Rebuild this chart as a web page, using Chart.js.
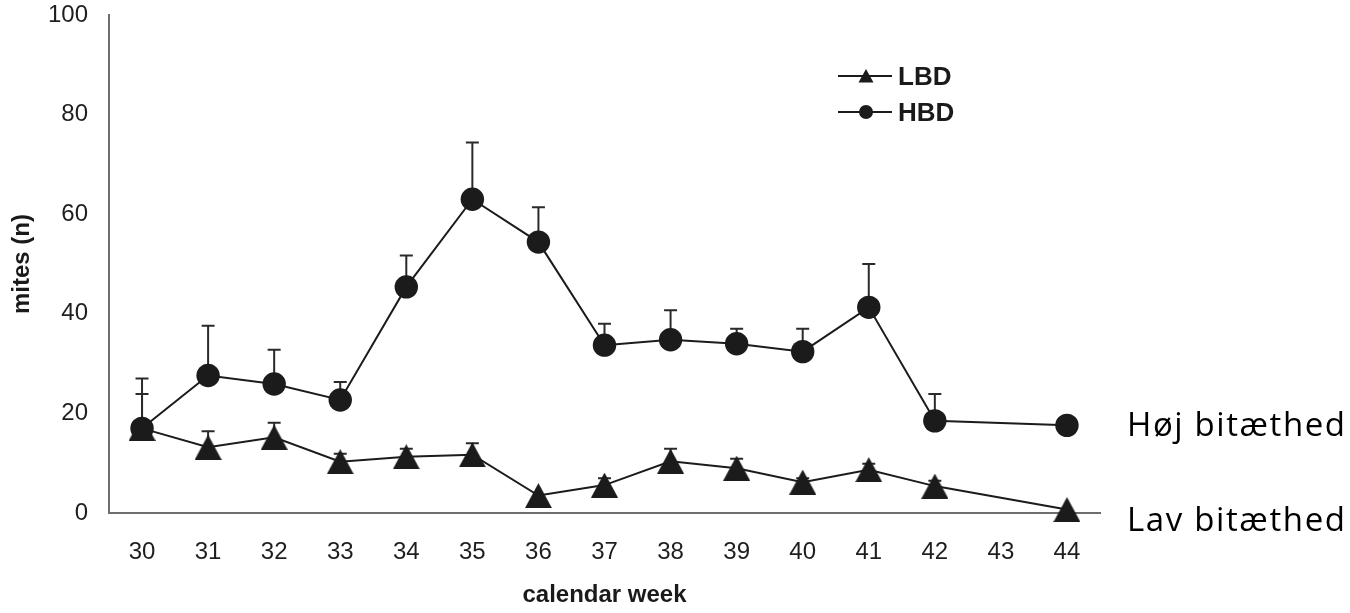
<!DOCTYPE html>
<html>
<head>
<meta charset="utf-8">
<script src="https://cdn.jsdelivr.net/npm/chart.js@4/dist/chart.umd.min.js"></script>
<style>
  html, body { margin: 0; padding: 0; background: #fff; }
  #wrap { width: 1350px; height: 613px; position: relative; }
</style>
</head>
<body>
<div id="wrap"><canvas id="c" width="1350" height="613"></canvas></div>
<script>
// ---- data ----
const weeks = ['30','31','32','33','34','35','36','37','38','39','40','41','42','43','44'];
const hbdMean = [17.0, 27.6, 25.9, 22.7, 45.4, 63.0, 54.4, 33.7, 34.8, 34.0, 32.4, 41.3, 18.5, null, 17.6];
const hbdErr  = [10.0, 10.0, 6.9, 3.6, 6.3, 11.4, 7.0, 4.3, 5.9, 3.0, 4.6, 8.7, 5.4, null, null];
const lbdMean = [17.0, 13.2, 15.2, 10.3, 11.3, 11.7, 3.5, 5.6, 10.4, 9.0, 6.2, 8.7, 5.4, null, 0.7];
const lbdErr  = [6.9, 3.2, 2.9, 1.6, 1.6, 2.3, null, 1.4, 2.5, 1.9, 0.8, 1.2, 1.1, null, null];
const yTicks = [0, 20, 40, 60, 80, 100];
const seriesNames = ['LBD', 'HBD'];
const sideLabels = ['Høj bitæthed', 'Lav bitæthed'];
const xTitle = 'calendar week';
const yTitle = 'mites (n)';

const INK = '#1b1b1b';

function triangleImage(w, h) {
  const cv = document.createElement('canvas');
  cv.width = w; cv.height = h;
  const g = cv.getContext('2d');
  g.fillStyle = INK;
  g.beginPath();
  g.moveTo(w / 2, 0);
  g.lineTo(w, h);
  g.lineTo(0, h);
  g.closePath();
  g.fill();
  return cv;
}
const triBig = triangleImage(27, 25);

const errorBars = {
  id: 'errorBars',
  beforeDatasetsDraw(chart) {
    const ctx = chart.ctx;
    const x = chart.scales.x, y = chart.scales.y;
    const sets = [[lbdMean, lbdErr], [hbdMean, hbdErr]];
    ctx.save();
    ctx.strokeStyle = '#2a2a2a';
    ctx.lineWidth = 2;
    sets.forEach(([m, e]) => {
      m.forEach((v, i) => {
        if (v == null || e[i] == null) return;
        const px = x.getPixelForValue(i);
        const y0 = y.getPixelForValue(v);
        const y1 = y.getPixelForValue(v + e[i]);
        ctx.beginPath();
        ctx.moveTo(px, y0);
        ctx.lineTo(px, y1);
        ctx.moveTo(px - 6.5, y1);
        ctx.lineTo(px + 6.5, y1);
        ctx.stroke();
      });
    });
    ctx.restore();
  }
};

const extras = {
  id: 'extras',
  afterDraw(chart) {
    const ctx = chart.ctx;
    ctx.save();
    // legend
    const rows = [[seriesNames[0], 76, 'tri'], [seriesNames[1], 112, 'circ']];
    rows.forEach(([name, ly, kind]) => {
      ctx.strokeStyle = INK;
      ctx.lineWidth = 2;
      ctx.beginPath();
      ctx.moveTo(838, ly);
      ctx.lineTo(892, ly);
      ctx.stroke();
      ctx.fillStyle = INK;
      if (kind === 'tri') {
        ctx.beginPath();
        ctx.moveTo(866, ly - 7);
        ctx.lineTo(873.5, ly + 6.5);
        ctx.lineTo(858.5, ly + 6.5);
        ctx.closePath();
        ctx.fill();
      } else {
        ctx.beginPath();
        ctx.arc(866, ly, 7, 0, Math.PI * 2);
        ctx.fill();
      }
      ctx.font = 'bold 26px "Liberation Sans", Arial, sans-serif';
      ctx.textBaseline = 'middle';
      ctx.textAlign = 'left';
      ctx.fillStyle = '#1a1a1a';
      ctx.fillText(name, 898, ly + 2);
    });
    // side labels
    ctx.font = '33px "Open Sans", Lato, sans-serif';
    ctx.fillStyle = '#000';
    ctx.textBaseline = 'alphabetic';
    const targetW = 218;
    [[sideLabels[0], 436], [sideLabels[1], 531]].forEach(([t, by]) => {
      ctx.letterSpacing = '0px';
      const w = ctx.measureText(t).width;
      const ls = (targetW - w) / (t.length - 1);
      ctx.letterSpacing = Math.max(-1.5, Math.min(3, ls)).toFixed(2) + 'px';
      ctx.fillText(t, 1127, by);
    });
    ctx.letterSpacing = '0px';
    ctx.restore();
  }
};

new Chart(document.getElementById('c'), {
  type: 'line',
  data: {
    labels: weeks,
    datasets: [
      {
        label: seriesNames[1],
        data: hbdMean,
        borderColor: INK,
        borderWidth: 2,
        backgroundColor: INK,
        pointBackgroundColor: INK,
        pointBorderColor: INK,
        pointBorderWidth: 0,
        pointRadius: 11.7,
        pointStyle: 'circle',
        spanGaps: true,
        clip: false,
        tension: 0,
        order: 0
      },
      {
        label: seriesNames[0],
        data: lbdMean,
        borderColor: INK,
        borderWidth: 2,
        backgroundColor: INK,
        pointStyle: triBig,
        pointRadius: 13,
        spanGaps: true,
        clip: false,
        tension: 0,
        order: 1
      }
    ]
  },
  options: {
    responsive: false,
    animation: false,
    events: [],
    layout: { autoPadding: false, padding: { left: 0, top: 15, right: 250, bottom: 0 } },
    plugins: { legend: { display: false }, tooltip: { enabled: false } },
    scales: {
      x: {
        type: 'category',
        offset: true,
        grid: { display: false, drawTicks: false, offset: true },
        border: { display: true, color: '#6e6e6e', width: 2 },
        ticks: {
          color: '#1e1e1e',
          padding: 25,
          autoSkip: false,
          maxRotation: 0,
          font: { family: '"Liberation Sans", Arial, sans-serif', size: 24 }
        },
        title: {
          display: true,
          text: xTitle,
          color: '#1a1a1a',
          padding: { top: 0, bottom: 3 },
          font: { family: '"Liberation Sans", Arial, sans-serif', size: 24, weight: 'bold' }
        },
        afterFit(s) { s.height = 100; s.paddingLeft = 0; s.paddingRight = 0; }
      },
      y: {
        min: 0,
        max: 100,
        afterBuildTicks(s) { s.ticks = yTicks.map(v => ({ value: v })); },
        grid: { display: false, drawTicks: false },
        border: { display: true, color: '#6e6e6e', width: 2 },
        ticks: {
          color: '#1e1e1e',
          padding: 21,
          font: { family: '"Liberation Sans", Arial, sans-serif', size: 24 }
        },
        title: {
          display: true,
          text: yTitle,
          color: '#1a1a1a',
          padding: { top: 8, bottom: 0 },
          font: { family: '"Liberation Sans", Arial, sans-serif', size: 24, weight: 'bold' }
        },
        afterFit(s) { s.width = 109; s.paddingTop = 0; s.paddingBottom = 0; }
      }
    }
  },
  plugins: [errorBars, extras]
});
</script>
</body>
</html>
